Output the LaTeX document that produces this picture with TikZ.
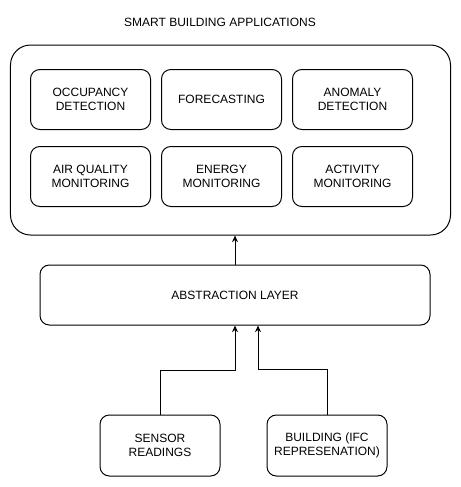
\documentclass[tikz,border=0pt]{standalone}
\usepackage{fontspec}
\setmainfont{Liberation Sans}
\usetikzlibrary{arrows.meta, positioning, calc}
\tikzset{
  % Box styles
  groupbox/.style={rectangle, rounded corners=15pt, draw=black, line width=0.75pt, minimum width=330pt, minimum height=142.5pt},
  appbox/.style={rectangle, rounded corners=7pt, draw=black, line width=0.75pt, minimum width=90pt, minimum height=45pt, font=\fontsize{9pt}{11pt}\selectfont, align=center, inner sep=0pt},
  layerbox/.style={rectangle, rounded corners=7pt, draw=black, line width=0.75pt, minimum width=292.5pt, minimum height=45pt, font=\fontsize{9pt}{11pt}\selectfont, align=center},
  titletext/.style={font=\fontsize{9pt}{11pt}\selectfont},
  % Arrow styles
  arrow/.style={-{Stealth[length=5pt,width=4.5pt]}, line width=0.75pt, black}
}
\begin{document}
\begin{tikzpicture}[x=0.75pt, y=-0.75pt]
  \useasboundingbox (0,0) rectangle (461,487);
  % Applications group
  \node[titletext] (title) at (220,22) {SMART BUILDING APPLICATIONS};
  \node[groupbox] (apps) at (230.5,140) {};
  \node[appbox] (occ) at (90.5,99.5) {OCCUPANCY\\DETECTION};
  \node[appbox, right=7.5pt of occ] (fore) {FORECASTING};
  \node[appbox, right=7.5pt of fore] (anom) {ANOMALY\\DETECTION};
  \node[appbox, below=12pt of occ] (air) {AIR QUALITY\\MONITORING};
  \node[appbox, right=7.5pt of air] (energy) {ENERGY\\MONITORING};
  \node[appbox, right=7.5pt of energy] (act) {ACTIVITY\\MONITORING};
  % Abstraction layer
  \node[layerbox] (abs) at (235,295) {ABSTRACTION LAYER};
  % Data sources
  \node[appbox, minimum height=45.75pt] (sensor) at (160,445.5) {SENSOR\\READINGS};
  \node[appbox, minimum height=45.75pt] (bldg) at (327,445.5) {BUILDING (IFC\\REPRESENATION)};
  % Connectors
  \draw[arrow] (abs.north) -- (abs.north |- apps.south);
  \draw[arrow] (sensor.north) -- ++(0,-44) -| (abs.south);
  \coordinate (absin) at ($(abs.south)+(23,0)$);
  \draw[arrow] (bldg.north) -- ++(0,-45) -| (absin);
\end{tikzpicture}
\end{document}
